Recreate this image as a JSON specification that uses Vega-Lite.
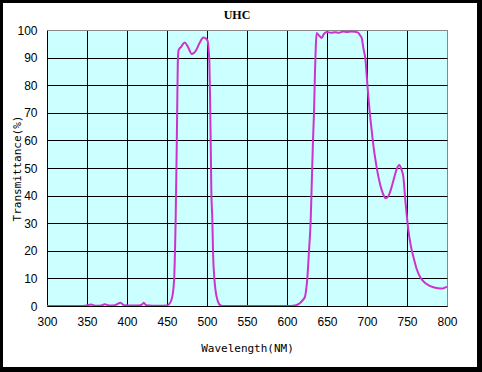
{
  "$schema": "https://vega.github.io/schema/vega-lite/v6.json",
  "width": 400,
  "height": 276,
  "autosize": {"type": "none"},
  "padding": {"left": 47, "top": 30, "right": 35, "bottom": 66},
  "background": "white",
  "title": {"text": "UHC", "font": "Liberation Serif", "fontSize": 12, "fontWeight": "bold", "color": "black", "anchor": "middle", "dx": -10, "offset": -25},
  "config": {
    "view": {"fill": "#CCFFFF", "stroke": "#888888", "strokeWidth": 1},
    "axis": {"domain": false, "ticks": false, "labelOverlap": false, "labelFont": "Liberation Sans", "labelFontSize": 12, "labelColor": "black", "titleFont": "DejaVu Sans Mono", "titleFontSize": 11, "titleFontWeight": "normal", "titleColor": "black", "gridOpacity": 1, "gridWidth": 1}
  },
  "data": {"values": [
    {"nm": 300, "t": 0}, {"nm": 340, "t": 0}, {"nm": 350, "t": 0.2}, {"nm": 355, "t": 0.5}, {"nm": 360, "t": 0.1},
    {"nm": 368, "t": 0.2}, {"nm": 372, "t": 0.6}, {"nm": 378, "t": 0.2}, {"nm": 385, "t": 0.3}, {"nm": 392, "t": 1.2},
    {"nm": 396, "t": 0.3}, {"nm": 410, "t": 0.2}, {"nm": 418, "t": 0.4}, {"nm": 421, "t": 1.2}, {"nm": 424, "t": 0.3},
    {"nm": 440, "t": 0.1}, {"nm": 450, "t": 0.2}, {"nm": 452, "t": 0.5}, {"nm": 455, "t": 1.8}, {"nm": 457, "t": 4},
    {"nm": 459, "t": 10}, {"nm": 460, "t": 20}, {"nm": 460.8, "t": 31}, {"nm": 461.8, "t": 50}, {"nm": 462.7, "t": 70},
    {"nm": 463.5, "t": 88}, {"nm": 464.5, "t": 92.7}, {"nm": 468, "t": 94}, {"nm": 472, "t": 95.5}, {"nm": 476, "t": 94},
    {"nm": 481, "t": 91.3}, {"nm": 486, "t": 92.5}, {"nm": 491, "t": 95.5}, {"nm": 495.5, "t": 97.3}, {"nm": 499, "t": 96.8},
    {"nm": 500.8, "t": 96}, {"nm": 502, "t": 93}, {"nm": 503, "t": 88}, {"nm": 503.8, "t": 76}, {"nm": 504.6, "t": 60},
    {"nm": 505.4, "t": 42}, {"nm": 506.7, "t": 31}, {"nm": 507.5, "t": 20}, {"nm": 509.2, "t": 10}, {"nm": 510.5, "t": 6},
    {"nm": 512, "t": 3.4}, {"nm": 514, "t": 1.4}, {"nm": 516, "t": 0.4}, {"nm": 520, "t": 0}, {"nm": 600, "t": 0},
    {"nm": 610, "t": 0.2}, {"nm": 616, "t": 1}, {"nm": 620, "t": 2.2}, {"nm": 622.5, "t": 3.4}, {"nm": 624, "t": 6},
    {"nm": 625.4, "t": 10}, {"nm": 627.5, "t": 20}, {"nm": 629.6, "t": 31}, {"nm": 631, "t": 45}, {"nm": 632.5, "t": 60},
    {"nm": 633.75, "t": 70}, {"nm": 635, "t": 85}, {"nm": 636, "t": 94}, {"nm": 637, "t": 98.9}, {"nm": 640, "t": 98},
    {"nm": 643.4, "t": 97.1}, {"nm": 646, "t": 98.5}, {"nm": 649.6, "t": 99.3}, {"nm": 655, "t": 99}, {"nm": 660, "t": 99.2},
    {"nm": 665, "t": 99}, {"nm": 670, "t": 99.5}, {"nm": 675, "t": 99.3}, {"nm": 680, "t": 99.5}, {"nm": 685, "t": 99.4},
    {"nm": 689, "t": 99}, {"nm": 691.5, "t": 98}, {"nm": 693.4, "t": 97.1}, {"nm": 695.4, "t": 93.5}, {"nm": 698.3, "t": 88.6},
    {"nm": 700, "t": 82}, {"nm": 701.7, "t": 75.8}, {"nm": 703.5, "t": 70}, {"nm": 705.8, "t": 63.8}, {"nm": 708.5, "t": 57},
    {"nm": 711.25, "t": 51.7}, {"nm": 714.5, "t": 46.5}, {"nm": 718.4, "t": 42}, {"nm": 721, "t": 40}, {"nm": 723.4, "t": 39},
    {"nm": 726, "t": 39.5}, {"nm": 728.5, "t": 41}, {"nm": 730.9, "t": 43.2}, {"nm": 734, "t": 46.5}, {"nm": 737, "t": 49.5},
    {"nm": 740.4, "t": 51.1}, {"nm": 743, "t": 49.5}, {"nm": 745.4, "t": 46.9}, {"nm": 748, "t": 38}, {"nm": 750, "t": 32},
    {"nm": 751.7, "t": 27.5}, {"nm": 755, "t": 21.5}, {"nm": 757.9, "t": 17.9}, {"nm": 762, "t": 13.5}, {"nm": 766.25, "t": 10.6},
    {"nm": 771, "t": 8.8}, {"nm": 776.7, "t": 7.6}, {"nm": 782, "t": 6.9}, {"nm": 789, "t": 6.4}, {"nm": 794, "t": 6.3},
    {"nm": 797, "t": 6.6}, {"nm": 800, "t": 7.0}
  ]},
  "layer": [
    {
      "mark": {"type": "line", "color": "#CC33CC", "strokeWidth": 2, "interpolate": "monotone", "clip": true},
      "encoding": {
        "x": {"field": "nm", "type": "quantitative", "scale": {"domain": [300, 800], "nice": false, "zero": false},
          "axis": {"title": "Wavelength(NM)", "values": [300, 350, 400, 450, 500, 550, 600, 650, 700, 750, 800], "labelPadding": 10, "titleY": 36, "titleBaseline": "top", "labelFlush": false,
            "gridColor": {"condition": {"test": "datum.value == 800", "value": "#888888"}, "value": "black"}}},
        "y": {"field": "t", "type": "quantitative", "scale": {"domain": [0, 100], "nice": false},
          "axis": {"title": "Transmittance(%)", "values": [0, 10, 20, 30, 40, 50, 60, 70, 80, 90, 100], "labelPadding": 10, "titleX": -30, "titleY": 138, "titleAngle": -90, "titleBaseline": "middle", "labelFlush": false,
            "gridColor": {"condition": {"test": "datum.value == 100", "value": "#888888"}, "value": "black"}}}
      }
    },
    {
      "mark": {"type": "rect", "fill": null, "fillOpacity": 0, "stroke": "black", "strokeWidth": 6, "clip": false},
      "encoding": {
        "x": {"datum": 241.25, "type": "quantitative",
          "axis": {"title": "Wavelength(NM)", "values": [300, 350, 400, 450, 500, 550, 600, 650, 700, 750, 800], "labelPadding": 10, "titleY": 36, "titleBaseline": "top", "labelFlush": false,
            "gridColor": {"condition": {"test": "datum.value == 800", "value": "#888888"}, "value": "black"}}},
        "x2": {"datum": 841.25},
        "y": {"datum": 110.87, "type": "quantitative",
          "axis": {"title": "Transmittance(%)", "values": [0, 10, 20, 30, 40, 50, 60, 70, 80, 90, 100], "labelPadding": 10, "titleX": -30, "titleY": 138, "titleAngle": -90, "titleBaseline": "middle", "labelFlush": false,
            "gridColor": {"condition": {"test": "datum.value == 100", "value": "#888888"}, "value": "black"}}},
        "y2": {"datum": -23.19}
      }
    }
  ]
}
